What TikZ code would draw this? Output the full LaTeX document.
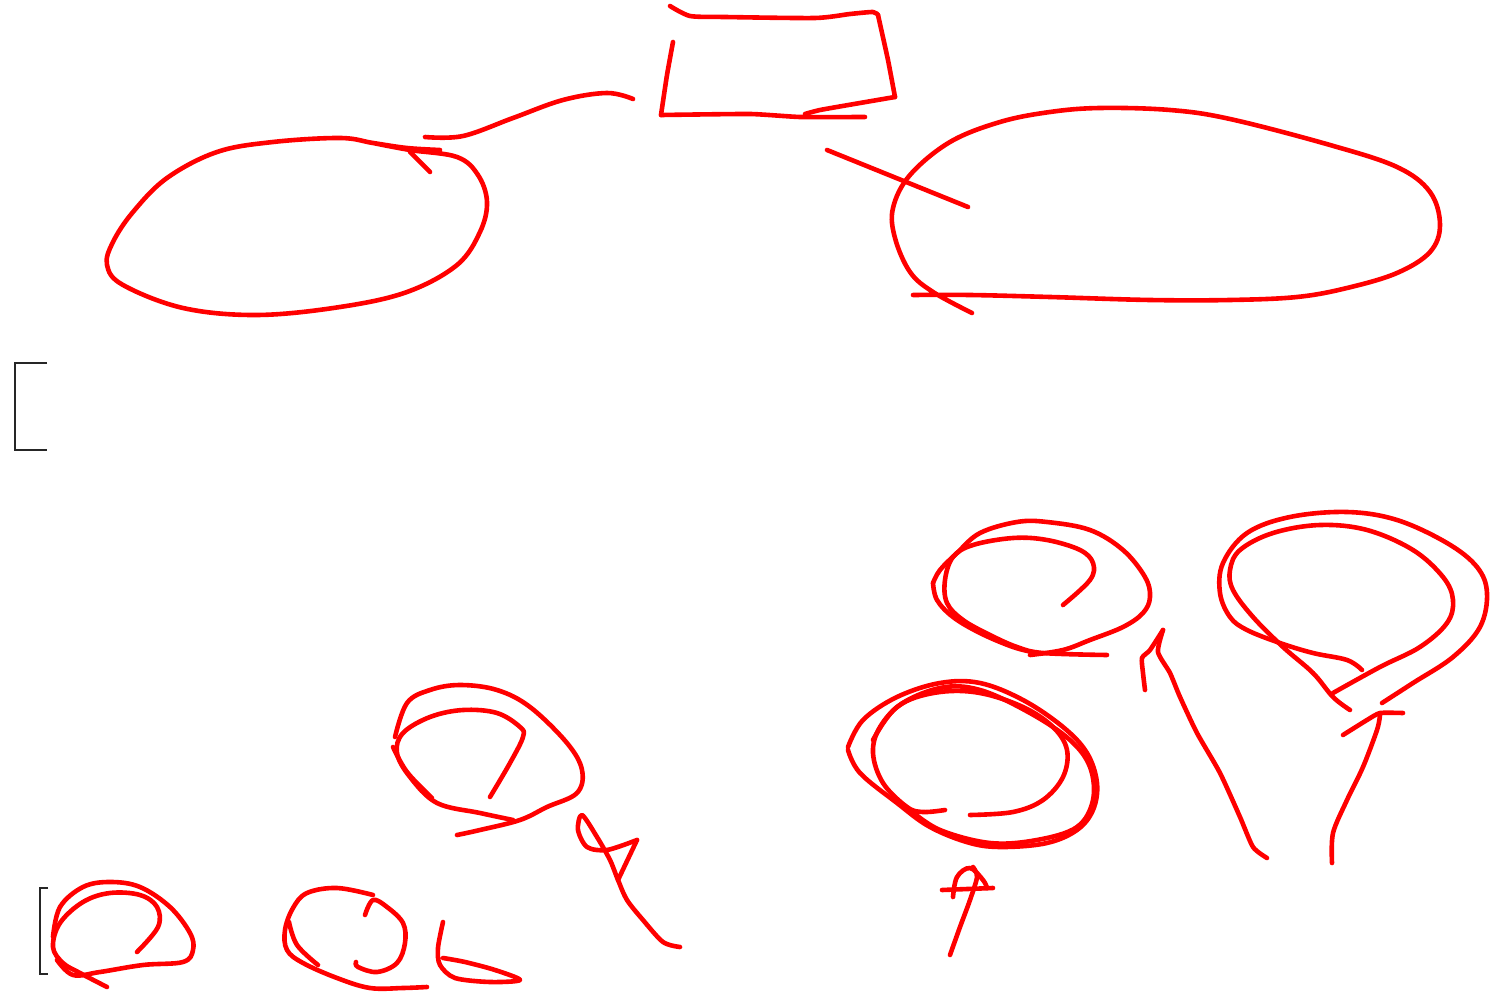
\documentclass[tikz,border=0pt]{standalone}
\begin{document}
\begin{tikzpicture}[x=0.5pt,y=-0.5pt,
  sk/.style={draw=red,line width=2.3pt,line cap=round,line join=round},
  brk/.style={draw=black!85,line width=1pt}]
\useasboundingbox[fill=white] (0,0) rectangle (1512,995);
% top box
\draw[sk] plot[smooth,tension=0.4] coordinates {(670,6) (690,16) (725,17) (815,18) (850,14) (873,12) (878,15)};
\draw[sk] plot[smooth,tension=0.2] coordinates {(878,15) (888,60) (895,97)};
\draw[sk] plot[smooth,tension=0.3] coordinates {(895,97) (860,103) (820,110) (805,114)};
\draw[sk] plot[smooth,tension=0.3] coordinates {(673,42) (667,75) (661,115)};
\draw[sk] plot[smooth,tension=0.3] coordinates {(661,115) (750,114) (800,117) (865,117)};
% connector to left ellipse
\draw[sk] plot[smooth,tension=0.6] coordinates {(425,137) (463,136) (513,118) (563,100) (607,93) (633,99)};
% left ellipse
\draw[sk] plot[smooth,tension=0.6] coordinates {(373,143) (410,150) (457,157) (478,175) (487,202) (480,232) (457,265) (407,292) (340,307) (257,315) (183,308) (123,285) (107,265) (113,242) (133,212) (167,178) (217,152) (273,142) (340,138) (373,143) (407,148) (440,150)};
\draw[sk] (410,152) -- (430,172);
% connector to right ellipse
\draw[sk] (827,150) -- (968,207);
% right ellipse
\draw[sk] plot[smooth,tension=0.6] coordinates {(972,313) (933,292) (910,272) (895,238) (893,208) (910,175) (950,142) (1000,122) (1050,112) (1100,108) (1170,110) (1230,119) (1330,145) (1397,167) (1430,192) (1440,225) (1430,252) (1397,273) (1347,288) (1297,297) (1230,300) (1150,300) (1050,297) (970,295) (913,295)};
% brackets
\draw[brk] (47,363) -- (15,363) -- (15,450) -- (47,450);
\draw[brk] (48,888) -- (40,888) -- (40,974) -- (48,974);
% bottom-left spiral
\draw[sk] plot[smooth,tension=0.6] coordinates {(137,952) (158,927) (157,907) (140,895) (110,893) (83,902) (60,923) (53,947) (63,963) (80,973) (107,987)};
\draw[sk] plot[smooth,tension=0.6] coordinates {(53,937) (60,907) (83,887) (110,882) (140,887) (170,907) (190,933) (193,950) (183,962) (143,965) (100,972) (73,975) (57,960)};
% second spiral
\draw[sk] plot[smooth,tension=0.6] coordinates {(365,915) (373,900) (387,907) (403,923) (405,943) (397,963) (377,972) (358,967) (356,962)};
\draw[sk] plot[smooth,tension=0.6] coordinates {(373,895) (337,888) (307,893) (293,908) (285,930) (287,950) (303,963) (337,978) (370,988) (403,988) (427,987)};
\draw[sk] plot[smooth,tension=0.6] coordinates {(289,922) (297,945) (318,965)};
% small b
\draw[sk] plot[smooth,tension=0.5] coordinates {(443,922) (438,948) (440,965) (455,978) (490,982) (520,980) (495,970) (465,962) (443,958)};
% middle spiral
\draw[sk] plot[smooth,tension=0.6] coordinates {(490,797) (510,763) (523,737) (520,727) (497,713) (463,710) (430,717) (403,733) (397,753) (410,777) (437,803) (480,813) (513,820)};
\draw[sk] plot[smooth,tension=0.6] coordinates {(395,737) (407,703) (430,690) (460,685) (497,690) (530,707) (567,743) (582,770) (577,793) (547,807) (520,820) (480,830) (457,835)};
\draw[sk] plot[smooth,tension=0.6] coordinates {(393,747) (407,772) (432,798)};
% alpha-like mark
\draw[sk] plot[smooth,tension=0.5] coordinates {(637,840) (607,850) (587,847) (578,830) (582,815) (597,837) (610,860) (618,880) (627,900) (643,920) (663,942) (680,947)};
\draw[sk] (637,840) -- (618,880);
% upper right spiral
\draw[sk] plot[smooth,tension=0.6] coordinates {(1063,605) (1090,580) (1093,563) (1080,550) (1047,540) (1013,538) (973,545) (953,557) (945,580) (947,603) (963,620) (990,635) (1017,647) (1043,653) (1107,655)};
\draw[sk] plot[smooth,tension=0.6] coordinates {(933,583) (940,570) (957,553) (980,533) (1017,522) (1047,522) (1090,530) (1123,550) (1145,577) (1150,597) (1143,613) (1123,627) (1090,640) (1063,650) (1030,655)};
\draw[sk] plot[smooth,tension=0.6] coordinates {(933,583) (937,600) (953,617) (980,633) (1013,647) (1037,653)};
% lower spiral
\draw[sk] plot[smooth,tension=0.6] coordinates {(970,815) (1013,812) (1043,800) (1063,777) (1067,750) (1053,727) (1023,707) (980,693) (940,692) (903,703) (880,727) (873,753) (883,783) (907,807) (923,812) (945,810)};
\draw[sk] plot[smooth,tension=0.6] coordinates {(848,747) (863,720) (897,697) (940,683) (980,683) (1023,700) (1063,727) (1087,753) (1097,783) (1093,810) (1077,830) (1047,843) (1003,847) (970,843) (930,827) (897,803) (860,773) (848,750)};
\draw[sk] plot[smooth,tension=0.6] coordinates {(873,740) (897,707) (940,688) (980,690) (1030,713) (1070,740) (1090,767) (1093,800) (1077,827) (1037,840) (990,843) (940,830) (910,810)};
% phi mark
\draw[sk] plot[smooth,tension=0.5] coordinates {(950,955) (960,927) (970,900) (977,877) (973,867)};
\draw[sk] (942,890) -- (993,888);
\draw[sk] plot[smooth,tension=0.6] coordinates {(953,897) (957,877) (970,868) (983,880) (987,888)};
% arrow up to upper spiral
\draw[sk] plot[smooth,tension=0.4] coordinates {(1267,858) (1253,847) (1240,817) (1220,773) (1197,733) (1180,697) (1170,673) (1158,652) (1163,630)};
\draw[sk] plot[smooth,tension=0.4] coordinates {(1163,630) (1150,650) (1142,658) (1143,673) (1145,690)};
% right pear
\draw[sk] plot[smooth,tension=0.6] coordinates {(1382,703) (1413,683) (1453,657) (1480,627) (1487,593) (1477,567) (1447,543) (1397,520) (1347,512) (1290,517) (1247,533) (1223,563) (1220,593) (1230,617) (1247,630) (1280,643) (1313,653) (1347,660) (1362,670)};
\draw[sk] plot[smooth,tension=0.6] coordinates {(1350,710) (1333,697) (1313,673) (1283,647) (1253,617) (1233,590) (1230,570) (1240,550) (1273,533) (1320,525) (1367,530) (1413,550) (1443,577) (1453,600) (1447,623) (1420,647) (1380,667) (1333,693)};
% arrow bottom right
\draw[sk] plot[smooth,tension=0.5] coordinates {(1332,863) (1333,833) (1347,800) (1363,767) (1377,730) (1380,715)};
\draw[sk] plot[smooth,tension=0.3] coordinates {(1343,735) (1367,720) (1380,713) (1403,713)};
\end{tikzpicture}
\end{document}
